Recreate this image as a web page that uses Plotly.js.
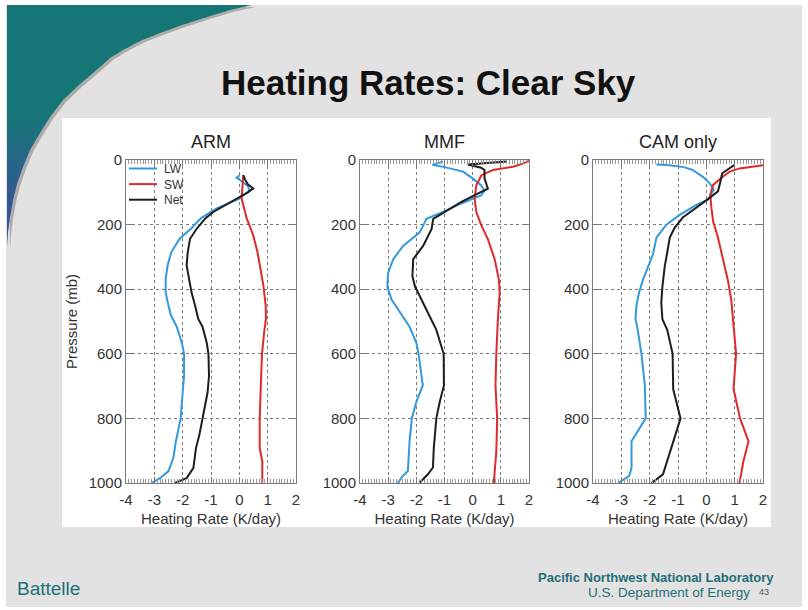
<!DOCTYPE html>
<html><head><meta charset="utf-8">
<script src="https://cdn.plot.ly/plotly-3.0.1.min.js"></script>
<style>html,body{margin:0;padding:0;background:#fff}#chart{width:808px;height:610px}</style>
</head><body><div id="chart"></div>
<script>
// ---------- DATA ----------
const panelTitles = ['ARM', 'MMF', 'CAM only'];
const seriesNames = ['LW', 'SW', 'Net'];
const xTickVals = [-4, -3, -2, -1, 0, 1, 2];
const xTickText = ['-4', '-3', '-2', '-1', '0', '1', '2'];
const yTickVals = [0, 200, 400, 600, 800, 1000];
const yTickText = ['0', '200', '400', '600', '800', '1000'];

// ARM
const armLW_p = [47,55,62,80,95,110,120,150,180,212,243,285,326,368,410,451,480,516,566,600,668,719,800,871,922,963,985,1000];
const armLW   = [0.02,-0.1,0.02,0.3,0.35,0.15,0.0,-0.8,-1.35,-1.7,-2.1,-2.4,-2.53,-2.6,-2.6,-2.5,-2.42,-2.21,-2.03,-1.95,-1.95,-2.0,-2.07,-2.24,-2.33,-2.5,-2.8,-3.1];
const armSW_p = [47,80,119,181,233,285,337,389,451,492,530,600,719,800,892,933,1000];
const armSW   = [0.14,0.12,0.08,0.26,0.49,0.64,0.75,0.85,0.93,0.94,0.88,0.8,0.75,0.72,0.72,0.81,0.81];
const armNet_p = [47,60,75,88,100,114,140,161,181,212,244,285,326,368,409,451,492,516,566,600,668,719,800,851,892,922,953,985,1000];
const armNet   = [0.14,0.2,0.3,0.49,0.3,0.02,-0.45,-0.92,-1.2,-1.5,-1.74,-1.82,-1.86,-1.78,-1.69,-1.56,-1.45,-1.3,-1.15,-1.09,-1.07,-1.12,-1.3,-1.41,-1.53,-1.58,-1.62,-1.86,-2.27];

// MMF
const mmfLW_p = [5,15,22,26,36,57,78,95,110,120,141,161,182,193,224,266,307,349,391,432,484,516,566,600,698,749,800,871,963,978,1000];
const mmfLW   = [-1.05,-1.43,-1.0,-0.8,-0.34,0.0,0.3,0.42,0.3,0.0,-0.58,-1.05,-1.64,-1.7,-1.88,-2.47,-2.82,-3.0,-3.03,-2.88,-2.47,-2.24,-2.0,-1.92,-1.77,-2.0,-2.16,-2.24,-2.3,-2.48,-2.66];
const mmfSW_p = [3,12,21,31,47,78,120,161,203,245,307,370,411,484,600,698,800,902,1000];
const mmfSW   = [2.0,1.75,1.43,0.72,0.31,0.13,0.07,0.13,0.31,0.54,0.78,0.93,0.96,0.9,0.84,0.81,0.87,0.84,0.75];
const mmfNet_p = [5,14,24,31,57,89,109,130,151,182,214,266,307,359,391,443,484,526,600,698,749,800,891,952,973,1000];
const mmfNet   = [1.2,-0.17,0.3,0.42,0.42,0.54,0.07,-0.4,-0.81,-1.4,-1.46,-1.76,-2.11,-2.14,-2.05,-1.76,-1.52,-1.29,-1.03,-1.02,-1.17,-1.29,-1.38,-1.41,-1.59,-1.89];

// CAM only
const camLW_p = [14,16,22,30,52,72,92,122,139,170,200,240,291,331,372,412,453,493,516,600,698,800,871,952,978,1000];
const camLW   = [-1.76,-1.3,-0.8,-0.5,-0.12,0.12,0.26,0.06,-0.35,-0.94,-1.41,-1.76,-1.88,-2.06,-2.24,-2.38,-2.47,-2.5,-2.44,-2.29,-2.17,-2.14,-2.64,-2.64,-2.72,-3.11];
const camSW_p = [16,26,36,51,77,107,149,190,240,311,372,433,493,600,709,800,871,932,1000];
const camSW   = [2.0,1.18,0.82,0.59,0.24,0.14,0.18,0.24,0.41,0.61,0.76,0.88,0.94,1.05,0.96,1.19,1.49,1.31,1.17];
const camNet_p = [16,31,41,66,97,121,146,177,210,240,291,331,392,442,493,526,600,709,800,892,973,1000];
const camNet   = [0.98,0.71,0.56,0.5,0.41,0.06,-0.35,-0.82,-1.12,-1.29,-1.39,-1.47,-1.55,-1.59,-1.55,-1.38,-1.19,-1.17,-0.91,-1.23,-1.53,-1.93];

// ---------- BUILD ----------
const W = 808, H = 610;
const px = x => x / W, py = y => 1 - y / H;
const colors = {LW: '#3399dd', SW: '#e02a2a', Net: '#1e1e1e'};
const FONT = 'Liberation Sans, Arial, Helvetica, sans-serif';
const NARROW = 'Liberation Sans Narrow, Liberation Sans, Arial, sans-serif';

const panels = [
  {LW: [armLW_p, armLW], SW: [armSW_p, armSW], Net: [armNet_p, armNet]},
  {LW: [mmfLW_p, mmfLW], SW: [mmfSW_p, mmfSW], Net: [mmfNet_p, mmfNet]},
  {LW: [camLW_p, camLW], SW: [camSW_p, camSW], Net: [camNet_p, camNet]}
];
const xDomains = [[px(126), px(296)], [px(360), px(529)], [px(593), px(763)]];
const yDomain = [py(483), py(160)];

const traces = [];
panels.forEach((pan, i) => {
  const sfx = i === 0 ? '' : String(i + 1);
  seriesNames.forEach(name => {
    traces.push({
      type: 'scatter', mode: 'lines', name: name,
      x: pan[name][1], y: pan[name][0],
      xaxis: 'x' + sfx, yaxis: 'y' + sfx,
      line: {color: colors[name], width: 2},
      showlegend: false, hoverinfo: 'skip'
    });
  });
});

const layout = {
  width: W, height: H,
  margin: {l: 0, r: 0, t: 0, b: 0},
  paper_bgcolor: '#ffffff', plot_bgcolor: '#ffffff',
  showlegend: false,
  font: {family: FONT, color: '#333'},
  shapes: [], annotations: []
};

panels.forEach((pan, i) => {
  const sfx = i === 0 ? '' : String(i + 1);
  layout['xaxis' + sfx] = {
    domain: xDomains[i], anchor: 'y' + sfx, range: [-4, 2],
    tickmode: 'array', tickvals: xTickVals, ticktext: xTickText,
    ticks: 'inside', ticklen: 6, tickcolor: '#777', tickwidth: 1, ticklabelstandoff: 3,
    showline: true, linecolor: '#7a7a7a', linewidth: 1, mirror: 'allticks',
    showgrid: true, gridcolor: '#7a7a7a', griddash: 'dot', gridwidth: 1, zeroline: false,
    minor: {ticks: 'inside', ticklen: 4, dtick: 0.1, tickcolor: '#999', showgrid: false},
    tickfont: {family: FONT, size: 15, color: '#333'},
    title: {text: 'Heating Rate (K/day)', font: {family: FONT, size: 15, color: '#333'}, standoff: 6},
    automargin: false, fixedrange: true
  };
  layout['yaxis' + sfx] = {
    domain: yDomain, anchor: 'x' + sfx, range: [1000, 0],
    tickmode: 'array', tickvals: yTickVals, ticktext: yTickText,
    ticks: 'inside', ticklen: 6, tickcolor: '#777',
    showline: true, linecolor: '#7a7a7a', linewidth: 1, mirror: 'allticks',
    showgrid: true, gridcolor: '#7a7a7a', griddash: 'dot', gridwidth: 1, zeroline: false,
    tickfont: {family: FONT, size: 15, color: '#333'},
    title: i === 0 ? {text: 'Pressure (mb)', font: {family: FONT, size: 15, color: '#333'}, standoff: 7} : {text: ''},
    automargin: false, fixedrange: true
  };
  layout.annotations.push({
    xref: 'paper', yref: 'paper', x: (xDomains[i][0] + xDomains[i][1]) / 2, y: py(142),
    xanchor: 'center', yanchor: 'middle', showarrow: false,
    text: panelTitles[i], font: {family: FONT, size: 18, color: '#222'}
  });
});

// slide background
layout.shapes.push({type: 'rect', xref: 'paper', yref: 'paper', x0: px(6), x1: px(802), y0: py(607), y1: py(5),
  fillcolor: '#e2e2e2', line: {width: 0}, layer: 'below'});

// decorative arc (top-left), with soft shadow and vertical colour bands
const arcEdge = [[252,5],[230,10],[207,17],[182,25],[160,33],[140,41],[123,50],[110,58],[100,67],[80,84],[63,100],[50,117],[40,133],[30,150],[23,167],[17,184],[13,200],[10,217],[8,233],[7,247]];
const toPath = pts => 'M ' + pts.map(p => px(p[0]).toFixed(5) + ',' + py(p[1]).toFixed(5)).join(' L ') + ' Z';
const edgeX = y => {
  for (let k = 0; k < arcEdge.length - 1; k++) {
    const a = arcEdge[k], b = arcEdge[k + 1];
    if (y >= a[1] && y <= b[1]) return a[0] + (b[0] - a[0]) * (y - a[1]) / (b[1] - a[1]);
  }
  return 7;
};
layout.shapes.push({type: 'path', xref: 'paper', yref: 'paper', layer: 'below',
  path: toPath([[7,5]].concat(arcEdge.map(p => [p[0] + 3, p[1] + 2]))),
  fillcolor: 'rgba(70,70,70,0.35)', line: {width: 0}});
const c0 = [22, 118, 118], c1 = [66, 70, 165];
for (let y = 5; y < 247; y += 6) {
  const y2 = Math.min(y + 6.5, 247);
  const pts = [[7, y]];
  pts.push([edgeX(y), y]);
  arcEdge.forEach(p => { if (p[1] > y && p[1] < y2) pts.push(p); });
  pts.push([edgeX(y2), y2]);
  pts.push([7, y2]);
  const t = Math.max(0, Math.min(1, (y - 110) / 135));
  const c = c0.map((v, j) => Math.round(v + (c1[j] - v) * t));
  layout.shapes.push({type: 'path', xref: 'paper', yref: 'paper', layer: 'below',
    path: toPath(pts), fillcolor: 'rgb(' + c.join(',') + ')', line: {width: 0}});
}

// white chart panel
layout.shapes.push({type: 'rect', xref: 'paper', yref: 'paper', x0: px(62), x1: px(771), y0: py(527), y1: py(118),
  fillcolor: '#ffffff', line: {width: 0}, layer: 'below'});

// legend inside ARM panel (line keys + one three-line text block)
const legFont = 12, legTop = 168.5, legStep = legFont * 1.3;
seriesNames.forEach((name, k) => {
  const yy = legTop + k * legStep;
  layout.shapes.push({type: 'line', xref: 'paper', yref: 'paper', x0: px(129), x1: px(157), y0: py(yy), y1: py(yy),
    line: {color: colors[name], width: 2}});
});
layout.annotations.push({xref: 'paper', yref: 'paper', x: px(162), y: py(legTop + legStep), xanchor: 'left', yanchor: 'middle',
  align: 'left', showarrow: false, text: seriesNames.join('<br>'), font: {family: FONT, size: legFont, color: '#333'}});

// slide title and footer
layout.annotations.push({xref: 'paper', yref: 'paper', x: px(428), y: py(83), xanchor: 'center', yanchor: 'middle',
  showarrow: false, text: '<b>Heating Rates: Clear Sky</b>', font: {family: FONT, size: 35, color: '#111'}});
layout.annotations.push({xref: 'paper', yref: 'paper', x: px(15), y: py(588), xanchor: 'left', yanchor: 'middle',
  showarrow: false, text: 'Battelle', font: {family: NARROW, size: 19, color: '#1f6f78'}});
layout.annotations.push({xref: 'paper', yref: 'paper', x: px(776), y: py(577), xanchor: 'right', yanchor: 'middle',
  showarrow: false, text: '<b>Pacific Northwest National Laboratory</b>', font: {family: NARROW, size: 13, color: '#1f6f78'}});
layout.annotations.push({xref: 'paper', yref: 'paper', x: px(752), y: py(592), xanchor: 'right', yanchor: 'middle',
  showarrow: false, text: 'U.S. Department of Energy', font: {family: NARROW, size: 13.5, color: '#1f6f78'}});
layout.annotations.push({xref: 'paper', yref: 'paper', x: px(757), y: py(592), xanchor: 'left', yanchor: 'middle',
  showarrow: false, text: '43', font: {family: NARROW, size: 9, color: '#555'}});

Plotly.newPlot('chart', traces, layout, {displayModeBar: false, staticPlot: true});
</script></body></html>
